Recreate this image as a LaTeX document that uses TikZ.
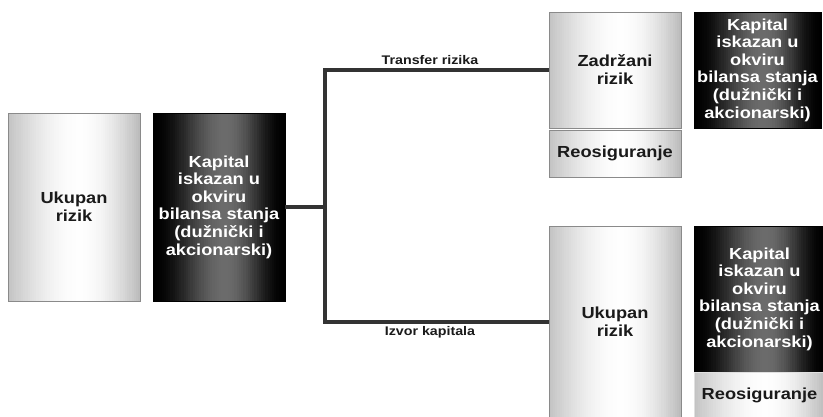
\documentclass[tikz,border=0pt]{standalone}
\usepackage{fontspec}
\setmainfont{Liberation Sans}[FakeStretch=1.14]
\usetikzlibrary{backgrounds}
\definecolor{lineclr}{HTML}{333333}
\definecolor{txtdark}{HTML}{1A1A1A}
\definecolor{edgeclr}{HTML}{8A8A8A}
\newdimen\gxl \newdimen\gxr \newdimen\gyb \newdimen\gyt
% #1 node name, #2 gray profile as function of \tm in [0,1]
\newcommand\stripgrad[2]{%
  \pgfextractx{\gxl}{\pgfpointanchor{#1}{south west}}%
  \pgfextracty{\gyb}{\pgfpointanchor{#1}{south west}}%
  \pgfextractx{\gxr}{\pgfpointanchor{#1}{north east}}%
  \pgfextracty{\gyt}{\pgfpointanchor{#1}{north east}}%
  \foreach \i in {0,...,59}{%
    \pgfmathsetmacro\tm{(\i+0.5)/60}%
    \pgfmathsetmacro\xa{\gxl+(\gxr-\gxl)*\i/60}%
    \pgfmathsetmacro\xb{\gxl+(\gxr-\gxl)*min(1,(\i+1.3)/60)}%
    \pgfmathsetmacro\gval{#2}%
    \definecolor{gtmp}{gray}{\gval}%
    \pgfpathrectanglecorners{\pgfqpoint{\xa pt}{\gyb}}{\pgfqpoint{\xb pt}{\gyt}}%
    \pgfsetfillcolor{gtmp}\pgfusepath{fill}%
  }}
\newcommand\lightprof{\tm<0.55 ? 0.76+0.235*sin(90*\tm/0.55) : 0.73+0.265*cos(90*(\tm-0.55)/0.45)}
\newcommand\darkprof{\tm<0.55 ? 0.42*(sin(90*\tm/0.55))^2 : 0.42*(cos(90*(\tm-0.55)/0.45))^2}
\begin{document}
\begin{tikzpicture}[x=1pt,y=-1pt,
  lightbox/.style={draw=edgeclr, line width=0.8pt, inner sep=0pt, align=center,
    text=txtdark, font=\fontsize{16}{18}\selectfont\bfseries},
  darkbox/.style={draw=black, line width=0.5pt, inner sep=0pt, align=center, text=white,
    font=\fontsize{16}{17.6}\selectfont\bfseries},
  conn/.style={draw=lineclr, line width=3.6pt},
  lbl/.style={font=\fontsize{12.5}{14}\selectfont\bfseries, text=txtdark, inner sep=0pt}]
\useasboundingbox (0,0) rectangle (823,417);
% left column
\node[lightbox, minimum width=132pt, minimum height=188pt] (uk1) at (74,207) {Ukupan\\rizik};
\node[darkbox, minimum width=132pt, minimum height=188pt] (kap1) at (219,207)
  {Kapital\\iskazan u\\okviru\\bilansa stanja\\(dužnički i\\akcionarski)};
% top right
\node[lightbox, minimum width=132pt, minimum height=116pt] (zad) at (615,70) {Zadržani\\rizik};
\node[lightbox, minimum width=132pt, minimum height=47pt] (reo1) at (615,153.5) {Reosiguranje};
\node[darkbox, minimum width=127pt, minimum height=116pt] (kap2) at (757.5,70)
  {Kapital\\iskazan u\\okviru\\bilansa stanja\\(dužnički i\\akcionarski)};
% bottom right
\node[lightbox, minimum width=132pt, minimum height=192pt] (uk2) at (615,322) {Ukupan\\rizik};
\node[darkbox, minimum width=131pt, minimum height=146pt] (kap3) at (759.5,299)
  {Kapital\\iskazan u\\okviru\\bilansa stanja\\(dužnički i\\akcionarski)};
\node[lightbox, draw=black!12, minimum width=131pt, minimum height=46pt] (reo2) at (759.5,395) {Reosiguranje};
% gradients behind the boxes
\begin{scope}[on background layer]
  \fill[white] (0,0) rectangle (823,417);
  \foreach \n in {uk1,zad,reo1,uk2,reo2}{\stripgrad{\n}{\lightprof}}
  \foreach \n in {kap1,kap2,kap3}{\stripgrad{\n}{\darkprof}}
\end{scope}
% connectors
\coordinate (jx) at (325,0);
\draw[conn] (kap1.east) -- (kap1.east -| jx);
\draw[conn] (zad.west) -| (jx |- uk2.west) -- (uk2.west);
\node[lbl] (tr) at (430,60) {Transfer rizika};
\node[lbl] (ik) at (430,332) {Izvor kapitala};
\end{tikzpicture}
\end{document}
